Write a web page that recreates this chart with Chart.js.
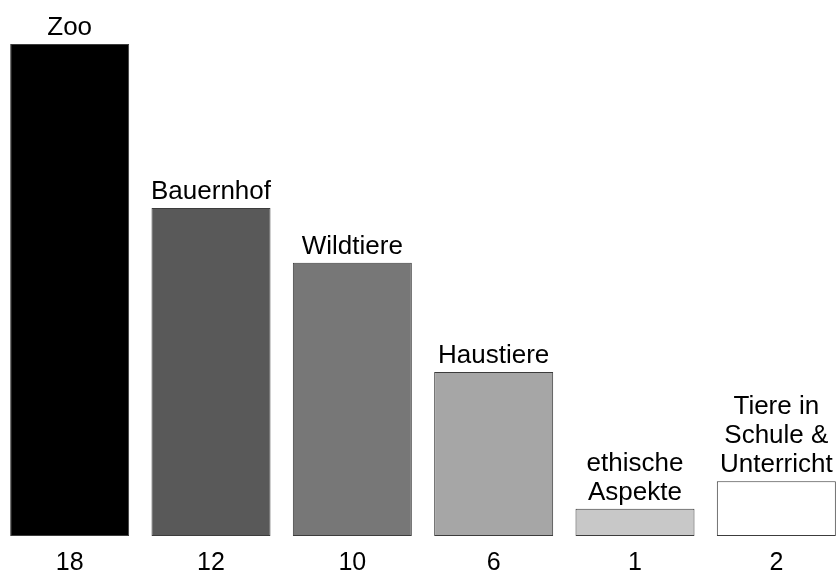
<!DOCTYPE html>
<html>
<head>
<meta charset="utf-8">
<script src="https://cdn.jsdelivr.net/npm/chart.js@4/dist/chart.umd.min.js"></script>
<style>
  html, body { margin: 0; padding: 0; background: #fff; overflow: hidden; }
  #wrap { position: absolute; left: -1px; top: 0; width: 848px; height: 577px; }
</style>
</head>
<body>
<div id="wrap"><canvas id="themenChart"></canvas></div>
<script>
// Themen (Anzahl Nennungen)
const categories = [
  ['Zoo'],
  ['Bauernhof'],
  ['Wildtiere'],
  ['Haustiere'],
  ['ethische', 'Aspekte'],
  ['Tiere in', 'Schule &', 'Unterricht']
];
const counts = [18, 12, 10, 6, 1, 2];
const barColors = ['#000000', '#595959', '#777777', '#a6a6a6', '#c8c8c8', '#ffffff'];

// labels above and counts below each bar
const barLabels = {
  id: 'barLabels',
  afterDatasetsDraw(chart) {
    const ctx = chart.ctx;
    const meta = chart.getDatasetMeta(0);
    const bottom = chart.chartArea.bottom;
    ctx.save();
    ctx.fillStyle = '#000';
    ctx.textAlign = 'center';
    ctx.textBaseline = 'alphabetic';
    meta.data.forEach((bar, i) => {
      const lines = categories[i];
      ctx.font = '26px "Liberation Sans", Arial, sans-serif';
      lines.forEach((line, j) => {
        const y = bar.y - 9 - (lines.length - 1 - j) * 29;
        ctx.fillText(line, bar.x, y);
      });
      ctx.font = '25px "Liberation Sans", Arial, sans-serif';
      ctx.fillText(String(counts[i]), bar.x, bottom + 34);
    });
    ctx.restore();
  }
};

new Chart(document.getElementById('themenChart'), {
  type: 'bar',
  data: {
    labels: categories.map(c => c.join(' ')),
    datasets: [{
      data: counts,
      backgroundColor: barColors,
      borderColor: '#3c3c3c',
      borderWidth: 1,
      borderSkipped: false,
      categoryPercentage: 1,
      barPercentage: 0.842
    }]
  },
  options: {
    responsive: true,
    maintainAspectRatio: false,
    animation: false,
    layout: { padding: { top: 44, bottom: 41, left: 0, right: 0 } },
    plugins: { legend: { display: false }, tooltip: { enabled: false } },
    scales: {
      x: { display: false },
      y: { display: false, min: 0, max: 18 }
    }
  },
  plugins: [barLabels]
});
</script>
</body>
</html>
